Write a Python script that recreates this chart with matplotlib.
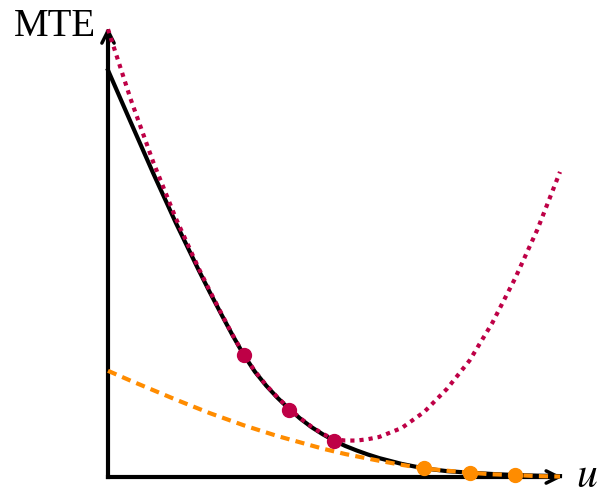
import matplotlib
matplotlib.use('Agg')
import matplotlib.pyplot as plt

# curve samples (denser where the curves bend)
u = [0.0, 0.05, 0.1, 0.15, 0.2, 0.225, 0.25, 0.275, 0.3, 0.325, 0.35, 0.375, 0.4,
     0.425, 0.45, 0.475, 0.5, 0.525, 0.55, 0.575, 0.6, 0.65, 0.7, 0.75, 0.8,
     0.85, 0.9, 0.95, 1.0]
mte = [0.904, 0.789, 0.675, 0.565, 0.461, 0.411, 0.363, 0.316, 0.272, 0.234, 0.203, 0.176, 0.152,
       0.130, 0.111, 0.095, 0.081, 0.069, 0.059, 0.050, 0.042, 0.029, 0.019, 0.013, 0.0096,
       0.0067, 0.0044, 0.003, 0.002]
mte_red = [0.995, 0.84, 0.70, 0.575, 0.465, 0.414, 0.365, 0.317, 0.273, 0.235, 0.204, 0.177, 0.153,
           0.131, 0.112, 0.096, 0.084, 0.081, 0.081, 0.084, 0.089, 0.109, 0.145, 0.196, 0.259,
           0.342, 0.44, 0.55, 0.678]
mte_orange = [0.236, 0.214, 0.193, 0.172, 0.152, 0.142, 0.133, 0.124, 0.115, 0.107, 0.099, 0.091, 0.084,
              0.077, 0.070, 0.063, 0.057, 0.051, 0.046, 0.041, 0.036, 0.027, 0.019, 0.014, 0.0096,
              0.006, 0.0044, 0.002, 0.001]

red_u = [0.3, 0.4, 0.5]
red_mte = [0.271, 0.150, 0.079]
orange_u = [0.7, 0.8, 0.9]
orange_mte = [0.019, 0.0096, 0.0044]

RED = '#BE0046'
ORANGE = '#FF8C00'

plt.rcParams['mathtext.fontset'] = 'stix'

fig = plt.figure(figsize=(5.98, 4.96), dpi=100)
ax = fig.add_axes([0, 0, 1, 1])
ax.set_xlim(-108 / 452, (598 - 108) / 452)
ax.set_ylim(-(496 - 477) / 450, 477 / 450)
ax.axis('off')

# axes with arrow heads
ax.plot([0, 0], [0, 0.99], color='black', lw=3, solid_capstyle='projecting', zorder=1)
ax.plot([0, 0.99], [0, 0], color='black', lw=3, solid_capstyle='projecting', zorder=1)
ax.annotate('', xy=(0, 1.0), xytext=(0, 0.9),
            arrowprops=dict(arrowstyle='->', lw=2.5, color='black', mutation_scale=22,
                            shrinkA=0, shrinkB=0))
ax.annotate('', xy=(1.005, 0), xytext=(0.9, 0),
            arrowprops=dict(arrowstyle='->', lw=2.5, color='black', mutation_scale=22,
                            shrinkA=0, shrinkB=0))

ax.plot(u, mte, color='black', lw=3, zorder=2)
ax.plot(u, mte_orange, color=ORANGE, lw=3, linestyle=(0, (2.2, 1.5)), zorder=3)
ax.plot(u, mte_red, color=RED, lw=3, linestyle=(0, (1, 1.2)), zorder=3)

ax.plot(red_u, red_mte, 'o', color=RED, markersize=10, zorder=4)
ax.plot(orange_u, orange_mte, 'o', color=ORANGE, markersize=10, zorder=4)

ax.text(-0.027, 1.0, 'MTE', ha='right', va='center', fontsize=28,
        family='Liberation Serif')
ax.text(1.06, 0.005, '$u$', ha='center', va='center', fontsize=30)

fig.savefig('out.png', dpi=100)
